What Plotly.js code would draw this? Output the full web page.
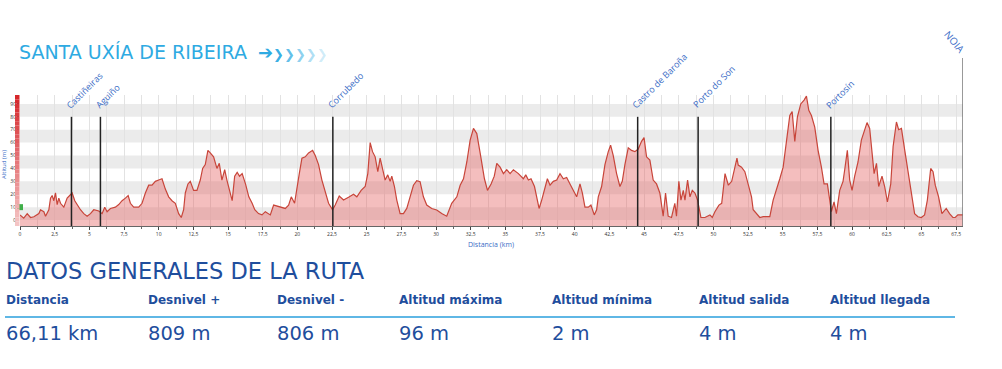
<!DOCTYPE html>
<html><head><meta charset="utf-8">
<script src="https://cdn.plot.ly/plotly-3.0.1.min.js"></script>
<style>html,body{margin:0;padding:0;background:#fff;} #chart{width:1002px;height:369px;}</style>
</head><body><div id="chart"></div>
<script>
const routeTitle = 'SANTA UXÍA DE RIBEIRA';
const sectionTitle = 'DATOS GENERALES DE LA RUTA';
const xTitle = 'Distancia (km)';
const yTitle = 'Altitud (m)';

const profileKm = [
  0, 0.27, 0.52, 0.76, 1.0, 1.36, 1.48, 1.72, 1.84, 2.08,
  2.2, 2.32, 2.44, 2.56, 2.68, 2.8, 2.92, 3.16, 3.4, 3.57,
  3.76, 3.95, 4.12, 4.36, 4.6, 4.84, 5.08, 5.32, 5.68, 5.92,
  6.11, 6.28, 6.52, 6.88, 7.12, 7.36, 7.6, 7.8, 7.96, 8.2,
  8.56, 8.8, 9.04, 9.28, 9.52, 9.76, 10.0, 10.24, 10.48, 10.72,
  10.96, 11.2, 11.44, 11.63, 11.8, 11.92, 12.11, 12.28, 12.52, 12.76,
  13.0, 13.17, 13.36, 13.55, 13.72, 13.96, 14.2, 14.37, 14.56, 14.76,
  14.92, 15.1, 15.3, 15.48, 15.66, 15.83, 16.02, 16.26, 16.5, 16.74,
  16.93,
  17.2, 17.45, 17.69, 18.05, 18.29, 18.65, 19.13, 19.37, 19.56, 19.8,
  19.97, 20.14, 20.33, 20.57, 20.81, 21.1, 21.29, 21.53, 21.77, 22.01,
  22.25, 22.54, 22.73, 23.02, 23.33, 23.69, 24.05, 24.29, 24.6, 24.89,
  25.08, 25.25, 25.42, 25.61, 25.8, 25.97, 26.14, 26.33, 26.52, 26.69,
  26.81, 27.0, 27.17, 27.41, 27.65, 27.89, 28.13, 28.37, 28.61, 28.85,
  29.09, 29.33, 29.69, 30.05, 30.41, 30.77, 31.13, 31.5, 31.74, 31.98,
  32.22, 32.46, 32.7, 32.94, 33.18, 33.49, 33.71, 33.97, 34.2,
  34.38, 34.62, 34.86, 35.1, 35.34, 35.58, 35.94, 36.3, 36.47, 36.66,
  36.85, 37.1, 37.26, 37.43, 37.62, 37.86, 38.03, 38.22, 38.46, 38.7,
  38.94, 39.18, 39.42, 39.66, 39.9, 40.14, 40.38, 40.55, 40.74, 40.98,
  41.17, 41.41, 41.58, 41.7, 41.94, 42.18, 42.42, 42.59, 42.78, 43.02,
  43.26, 43.43, 43.62, 43.86, 44.1, 44.34, 44.58, 44.82, 45.0, 45.18,
  45.42, 45.66, 45.9, 46.14, 46.38, 46.55, 46.74, 46.98, 47.22, 47.34,
  47.51, 47.66, 47.83, 47.95, 48.14, 48.31, 48.48, 48.67, 48.86, 49.1,
  49.39, 49.75, 49.92, 50.11, 50.4, 50.6, 50.84, 51.08, 51.32, 51.5,
  51.7,
  51.79, 52.03, 52.27, 52.51, 52.75, 52.87, 53.11, 53.35, 53.59, 53.83,
  54.07, 54.31, 54.55, 54.79, 55.03, 55.27, 55.51, 55.68, 55.87, 56.06,
  56.3, 56.54, 56.71, 56.88, 57.07, 57.31, 57.55, 57.79, 57.98, 58.22,
  58.39, 58.51, 58.7, 58.87, 59.11, 59.35, 59.47, 59.66, 59.83, 60.0,
  60.19, 60.43, 60.67, 60.91, 61.08, 61.27, 61.44, 61.59, 61.76, 61.92,
  62.16, 62.35, 62.55, 62.79, 62.96, 63.2, 63.36, 63.56, 63.8, 64.03,
  64.27, 64.51, 64.75, 64.99, 65.23, 65.43, 65.67, 65.84, 66.0, 66.24,
  66.48, 66.79, 67.03, 67.27, 67.44, 67.63, 68.0
];
const profileAlt = [
  4, 1.5, 5, 2, 2.6, 5, 8, 6.5, 3, 8,
  17, 19, 15, 21, 12, 17, 13, 10, 17, 19,
  21, 15, 12, 8, 5, 3, 5, 8, 7, 5,
  10, 6.5, 9, 10, 12, 15, 17, 19, 13, 10,
  10, 13, 21, 27, 27, 30, 31, 32, 24, 18,
  15, 13, 5, 2, 8, 21, 28, 30, 23, 23,
  31, 40, 43, 54, 52, 49, 40, 44, 31, 39,
  31, 23, 15, 34, 37, 34, 36, 28, 18, 13,
  8,
  5, 4, 6.5, 4, 11.6, 10.3, 9, 11.6, 18, 13,
  23, 36, 48, 49, 52, 54, 50, 43, 31, 21,
  13, 8, 11.6, 18.6, 15.5, 17.6, 20, 18, 23, 26,
  36, 60, 53, 49, 37.5, 48, 41, 31, 35, 30,
  34, 26, 15.5, 5, 5, 9, 18, 27, 30.5, 29.7,
  18, 11.6, 9, 7.8, 5, 3, 13, 18, 27, 32,
  45, 62, 71, 67, 52, 32, 23, 28, 34,
  44, 41, 36, 39, 36, 39, 36, 32, 35, 31,
  32, 26, 18, 9, 15.5, 26, 32, 27, 30, 31,
  36, 32, 33, 28, 23, 18, 28, 21, 10, 10,
  11.6, 4, 8, 18, 26, 43, 53, 58, 50, 36,
  26, 30, 43, 56, 54, 53, 55, 61, 64, 49,
  46.5, 31, 28, 21, 3, 21, 3, 2, 13, 3,
  30, 15.5, 23, 15.5, 31, 18, 23, 21, 15.5, 2,
  2, 4, 2, 6.5, 11.6, 13, 36, 27, 30, 37.5,
  48,
  42.6, 41, 37.5, 28, 18, 8, 5, 2, 2.6, 2.6,
  2.6, 15.5, 23, 32, 41, 62, 81, 84, 61, 80,
  90, 93, 96, 85, 81, 72, 54, 41, 28, 28,
  15.5, 6.5, 14, 5, 23, 30, 39, 54, 31, 23,
  34, 45, 62, 70, 75.5, 71, 54, 36, 44, 26,
  34, 26, 14, 28, 57, 76, 70, 71, 54, 39,
  23, 5, 2.6, 2, 4, 15.5, 40, 37.5, 27, 18,
  5, 9, 5, 2, 2, 4, 4
];

const wpNames = ['Castiñeiras', 'Aguiño', 'Corrubedo', 'Castro de Baroña', 'Porto do Son', 'Portosín'];
const wpKm = [3.71, 5.8, 22.56, 44.54, 48.9, 58.47];
const endName = 'NOIA';
const endKm = 68;
const startMarkKm = [0];
const startMarkAlt = [10];

const statLabels = ['Distancia', 'Desnivel +', 'Desnivel -', 'Altitud máxima', 'Altitud mínima', 'Altitud salida', 'Altitud llegada'];
const statValues = ['66,11 km', '809 m', '806 m', '96 m', '2 m', '4 m', '4 m'];

// ---- layout helpers (pixel -> paper) ----
const L = 20, R = 963, T = 95, B = 226;
const px = x => (x - L) / (R - L);
const py = y => (B - y) / (B - T);
const yMin = -4.6, yMax = 96.9;
const colX = [5, 147, 276, 398, 551, 698, 829];

const blue = '#1f4e9d';
const lightBlue = '#2eaae2';
const labelBlue = '#3a6cc6';

const shapes = [];
for (let v = 0; v < 90; v += 20) {
  shapes.push({type: 'rect', xref: 'paper', yref: 'y', x0: 0, x1: 1, y0: v, y1: v + 10,
    fillcolor: '#ebebeb', line: {width: 0}, layer: 'below'});
}
const nSeg = 30;
function lerp(a, b, t) { return Math.round(a + (b - a) * t); }
for (let i = 0; i < nSeg; i++) {
  const t = i / (nSeg - 1);
  const c = `rgb(${lerp(214, 244, t)},${lerp(38, 196, t)},${lerp(42, 196, t)})`;
  shapes.push({type: 'rect', xref: 'paper', yref: 'paper', x0: px(15), x1: px(19.5),
    y0: 1 - (i + 1) / nSeg, y1: 1 - i / nSeg, fillcolor: c, line: {width: 0}, layer: 'above'});
}
wpKm.forEach(k => shapes.push({type: 'line', xref: 'x', yref: 'y', x0: k, x1: k, y0: yMin, y1: 80,
  line: {color: '#222', width: 1.5}, layer: 'above'}));
shapes.push({type: 'line', xref: 'x', yref: 'paper', x0: endKm, x1: endKm, y0: 0, y1: py(58),
  line: {color: '#777', width: 1.5}, layer: 'above'});
shapes.push({type: 'line', xref: 'paper', yref: 'paper', x0: px(5), x1: px(955), y0: py(317), y1: py(317),
  line: {color: '#2a9fdc', width: 1.6}});

const annotations = [];
annotations.push({xref: 'paper', yref: 'paper', x: px(17), y: py(52), xanchor: 'left', yanchor: 'middle',
  text: routeTitle, showarrow: false, font: {family: 'DejaVu Sans', size: 19, color: lightBlue}});
const chevCols = ['rgba(46,170,226,0.95)', 'rgba(46,170,226,0.75)', 'rgba(46,170,226,0.55)', 'rgba(46,170,226,0.38)', 'rgba(46,170,226,0.22)'];
annotations.push({xref: 'paper', yref: 'paper', x: px(256), y: py(52), xanchor: 'left', yanchor: 'middle',
  text: '<span style="font-size:18px"><b>➔</b></span>' + chevCols.map(c => `<span style="color:${c}">❯</span>`).join(''), showarrow: false,
  font: {family: 'DejaVu Sans', size: 13, color: lightBlue}});
annotations.push({xref: 'paper', yref: 'paper', x: px(4), y: py(165), xanchor: 'center', yanchor: 'middle',
  text: yTitle, textangle: -90, showarrow: false, font: {family: 'Open Sans', size: 6, color: labelBlue}});
annotations.push({xref: 'paper', yref: 'paper', x: px(491), y: py(244), xanchor: 'center', yanchor: 'middle',
  text: xTitle, showarrow: false, font: {family: 'Open Sans', size: 7, color: labelBlue}});
wpNames.forEach((n, i) => annotations.push({xref: 'x', yref: 'y', x: wpKm[i], y: 80, xanchor: 'left', yanchor: 'bottom',
  xshift: -11, yshift: 3, text: n, textangle: -45, showarrow: false,
  font: {family: 'Open Sans', size: 9, color: labelBlue}}));
annotations.push({xref: 'x', yref: 'paper', x: endKm, y: py(57), xanchor: 'right', yanchor: 'bottom',
  xshift: 8, yshift: -2, text: endName, textangle: 50, showarrow: false,
  font: {family: 'Open Sans', size: 10, color: labelBlue}});
annotations.push({xref: 'paper', yref: 'paper', x: px(4), y: py(271), xanchor: 'left', yanchor: 'middle',
  text: sectionTitle, showarrow: false, font: {family: 'DejaVu Sans', size: 22.5, color: blue}});
statLabels.forEach((s, i) => annotations.push({xref: 'paper', yref: 'paper', x: px(colX[i] - 1), y: py(300),
  xanchor: 'left', yanchor: 'middle', text: '<b>' + s + '</b>', showarrow: false,
  font: {family: 'DejaVu Sans', size: 12, color: blue}}));
statValues.forEach((s, i) => annotations.push({xref: 'paper', yref: 'paper', x: px(colX[i] - 1), y: py(333),
  xanchor: 'left', yanchor: 'middle', text: s, showarrow: false,
  font: {family: 'DejaVu Sans', size: 19.5, color: blue}}));

const traces = [
  {x: [0, endKm], y: [yMin, yMin], mode: 'lines', line: {width: 0}, hoverinfo: 'skip', showlegend: false},
  {x: profileKm, y: profileAlt, mode: 'lines', fill: 'tonexty', fillcolor: 'rgba(228,100,100,0.42)',
    line: {color: '#c8453a', width: 1.2}, showlegend: false},
  {x: startMarkKm, y: startMarkAlt, mode: 'markers', marker: {symbol: 'square', size: 6, color: '#3fae49'},
    cliponaxis: false, showlegend: false}
];

const layout = {
  width: 1002, height: 369,
  margin: {l: L, r: 1002 - R, t: T, b: 369 - B, pad: 0},
  paper_bgcolor: '#fff', plot_bgcolor: '#fff',
  separators: ',.',
  showlegend: false,
  xaxis: {range: [0, endKm], tick0: 0, dtick: 2.5, ticks: 'outside', ticklen: 3, tickcolor: '#444',
    tickfont: {family: 'Open Sans', size: 5, color: '#333'}, showline: true, linecolor: '#666', linewidth: 1,
    showgrid: true, gridcolor: '#e2e2e2', gridwidth: 1, zeroline: false,
    minor: {dtick: 1.25, ticks: 'outside', ticklen: 2, tickcolor: '#666', showgrid: true, gridcolor: '#e2e2e2'}},
  yaxis: {range: [yMin, yMax], tick0: 0, dtick: 10, ticks: 'outside', ticklen: 2, tickcolor: '#444',
    tickfont: {family: 'Open Sans', size: 5, color: '#333'}, showline: false, showgrid: false, zeroline: false},
  shapes: shapes,
  annotations: annotations
};

Plotly.newPlot('chart', traces, layout, {displayModeBar: false, staticPlot: true});
</script>
</body></html>
